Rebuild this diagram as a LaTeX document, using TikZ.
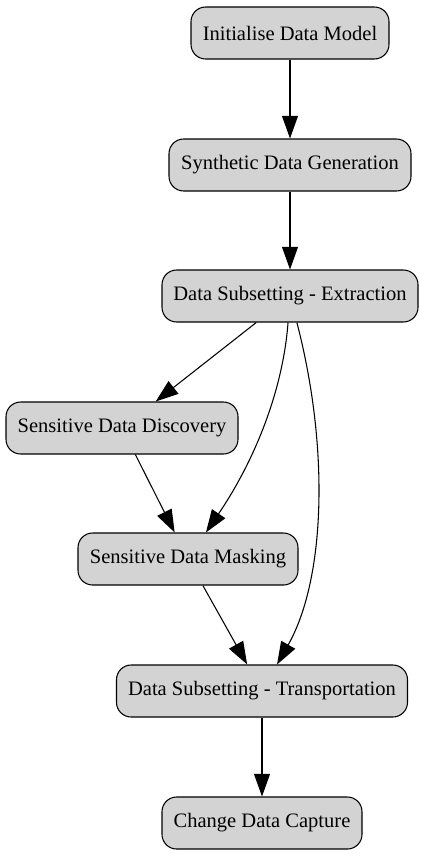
\documentclass[tikz,border=0pt]{standalone}
\usepackage{fontspec}
\setmainfont{Liberation Serif}
\usetikzlibrary{arrows.meta}
\definecolor{boxfill}{HTML}{D3D3D3}
\tikzset{
  stepbox/.style={draw=black, fill=boxfill, line width=0.8pt, rounded corners=11pt,
    minimum height=52*0.75pt, inner sep=0pt, font=\fontsize{15.4}{18}\selectfont},
  flow/.style={line width=0.8pt, -{Triangle[length=17pt,width=12pt]}}
}
\begin{document}
\begin{tikzpicture}[x=0.75pt, y=-0.75pt]
\useasboundingbox (0,0) rectangle (425,856);
\node[stepbox, minimum width=198*0.75pt] (init) at (290,33) {Initialise Data Model};
\node[stepbox, minimum width=242*0.75pt] (syn) at (290,165) {Synthetic Data Generation};
\node[stepbox, minimum width=256*0.75pt] (ext) at (290,296) {Data Subsetting - Extraction};
\node[stepbox, minimum width=232*0.75pt] (disc) at (122,428) {Sensitive Data Discovery};
\node[stepbox, minimum width=220*0.75pt] (mask) at (188,559) {Sensitive Data Masking};
\node[stepbox, minimum width=291*0.75pt] (trans) at (262,691) {Data Subsetting - Transportation};
\node[stepbox, minimum width=200*0.75pt] (cdc) at (262,823) {Change Data Capture};
\draw[flow] (init) -- (syn);
\draw[flow] (syn) -- (ext);
\draw[flow] (ext) -- (disc);
\draw[flow] (ext) .. controls (283,390) and (255,460) .. (mask);
\draw[flow] (ext) .. controls (330,450) and (325,580) .. (trans);
\draw[flow] (disc) -- (mask);
\draw[flow] (mask) -- (trans);
\draw[flow] (trans) -- (cdc);
\end{tikzpicture}
\end{document}
